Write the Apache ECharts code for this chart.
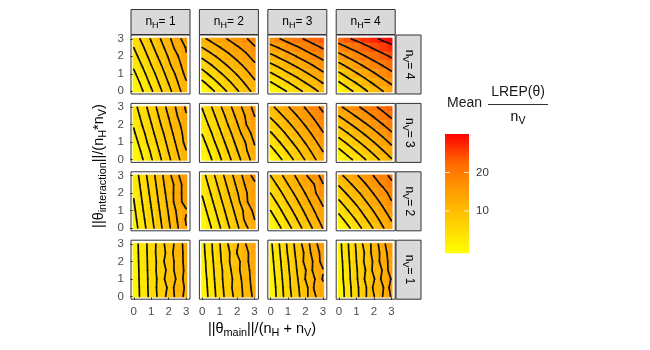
<!DOCTYPE html>
<html>
<head>
<meta charset="utf-8">
<script src="https://cdn.jsdelivr.net/npm/echarts@6/dist/echarts.min.js"></script>
<style>
  html, body { margin: 0; padding: 0; background: #fff; }
  #chart { width: 650px; height: 350px; }
</style>
</head>
<body>
<div id="chart"></div>
<script>
// facet labels
const nH = [1, 2, 3, 4];
const nV = [4, 3, 2, 1];

// sample positions of the grids (rows are listed from y = 3 down to y = 0)
const xSteps = [0, 0.5, 1, 1.5, 2, 2.5, 3];
const ySteps = [3, 2.5, 2, 1.5, 1, 0.5, 0];
const axisTicks = [0, 1, 2, 3];
const legendTicks = [10, 20];
const fillRange = [-1, 30];

// contour spacing per panel, rows nV = 4..1, columns nH = 1..4
const contourSteps = [
  [2, 2.5, 3, 4],
  [2, 2.2, 2.8, 3],
  [2, 2.2, 2.5, 2.9],
  [2, 2, 2, 2]
];

// mean LREP / nV
const lrepV4H1 = [
  [4.8, 6.5, 8.2, 9.9, 11.6, 13.3, 15.0],
  [4.0, 5.7, 7.5, 9.2, 10.9, 12.8, 14.1],
  [3.2, 5.0, 6.7, 8.5, 10.2, 11.8, 13.9],
  [2.4, 4.2, 6.0, 7.7, 9.6, 11.3, 13.0],
  [1.6, 3.4, 5.2, 7.0, 8.8, 10.5, 12.6],
  [0.8, 2.6, 4.5, 6.3, 8.1, 9.9, 11.8],
  [0.0, 1.9, 3.7, 5.6, 7.4, 9.3, 11.1]
];
const lrepV4H2 = [
  [12.0, 13.1, 14.1, 15.2, 16.2, 17.3, 18.3],
  [10.0, 11.2, 12.4, 13.5, 14.7, 15.7, 17.3],
  [8.0, 9.3, 10.6, 11.9, 13.2, 14.5, 15.8],
  [6.0, 7.4, 8.9, 10.3, 11.7, 13.1, 14.6],
  [4.0, 5.6, 7.1, 8.7, 10.2, 11.8, 13.3],
  [2.0, 3.7, 5.4, 7.0, 8.7, 10.4, 12.1],
  [0.0, 1.8, 3.6, 5.4, 7.2, 9.0, 10.8]
];
const lrepV4H3 = [
  [16.8, 17.9, 19.1, 20.2, 21.3, 22.4, 23.6],
  [14.0, 15.2, 16.4, 17.6, 18.9, 20.1, 21.3],
  [11.2, 12.5, 13.8, 15.1, 16.4, 17.7, 19.0],
  [8.4, 9.8, 11.2, 12.6, 13.9, 15.3, 16.7],
  [5.6, 7.1, 8.6, 10.0, 11.5, 13.0, 14.5],
  [2.8, 4.4, 5.9, 7.5, 9.1, 10.6, 12.2],
  [0.0, 1.7, 3.3, 5.0, 6.6, 8.3, 9.9]
];
const lrepV4H4 = [
  [21.9, 23.5, 24.8, 26.2, 27.4, 28.6, 29.6],
  [18.3, 20.0, 21.5, 23.0, 24.5, 25.8, 27.0],
  [14.6, 16.5, 18.2, 19.9, 21.5, 23.0, 24.4],
  [11.0, 13.0, 14.9, 16.8, 18.6, 20.2, 21.8],
  [7.3, 9.6, 11.6, 13.7, 15.6, 17.5, 19.2],
  [3.7, 6.1, 8.3, 10.5, 12.7, 14.7, 16.6],
  [0.0, 2.6, 5.0, 7.4, 9.7, 11.9, 14.0]
];
const lrepV3H1 = [
  [3.3, 5.1, 6.9, 8.8, 10.6, 12.4, 14.3],
  [2.8, 4.6, 6.4, 8.3, 10.1, 12.0, 13.8],
  [2.2, 4.1, 5.9, 7.8, 9.6, 11.5, 13.0],
  [1.7, 3.5, 5.4, 7.2, 9.1, 11.0, 12.8],
  [1.1, 3.0, 4.9, 6.7, 8.6, 10.5, 12.7],
  [0.6, 2.4, 4.3, 6.2, 8.1, 10.0, 11.9],
  [0.0, 1.9, 3.8, 5.7, 7.6, 9.5, 11.4]
];
const lrepV3H2 = [
  [4.5, 6.4, 8.4, 10.3, 12.2, 14.1, 16.1],
  [3.8, 5.7, 7.6, 9.6, 11.5, 13.4, 15.4],
  [3.0, 5.0, 6.9, 8.9, 10.8, 13.1, 14.7],
  [2.3, 4.2, 6.2, 8.1, 10.1, 12.1, 14.0],
  [1.5, 3.5, 5.5, 7.4, 9.4, 11.1, 13.4],
  [0.8, 2.7, 4.7, 6.7, 8.7, 10.7, 12.7],
  [0.0, 2.0, 4.0, 6.0, 8.0, 10.0, 12.0]
];
const lrepV3H3 = [
  [10.5, 12.1, 13.8, 15.4, 17.0, 18.6, 20.3],
  [8.8, 10.5, 12.2, 13.9, 15.6, 17.3, 19.0],
  [7.0, 8.8, 10.6, 12.4, 14.2, 16.0, 17.8],
  [5.3, 7.1, 9.0, 10.9, 12.8, 14.7, 16.6],
  [3.5, 5.5, 7.5, 9.4, 11.4, 13.4, 15.4],
  [1.8, 3.8, 5.9, 7.9, 10.0, 12.1, 14.1],
  [0.0, 2.2, 4.3, 6.5, 8.6, 10.8, 12.9]
];
const lrepV3H4 = [
  [14.4, 15.9, 17.4, 18.9, 20.4, 21.9, 23.4],
  [12.0, 13.6, 15.2, 16.7, 18.3, 19.9, 21.5],
  [9.6, 11.3, 12.9, 14.6, 16.2, 17.9, 19.5],
  [7.2, 8.9, 10.7, 12.4, 14.1, 15.8, 17.6],
  [4.8, 6.6, 8.4, 10.2, 12.0, 13.8, 15.6],
  [2.4, 4.3, 6.2, 8.0, 9.9, 11.8, 13.7],
  [0.0, 2.0, 3.9, 5.9, 7.8, 9.8, 11.7]
];
const lrepV2H1 = [
  [2.8, 5.0, 7.1, 9.3, 11.4, 13.6, 15.7],
  [2.5, 4.7, 6.8, 9.0, 11.1, 12.7, 15.4],
  [2.2, 4.4, 6.5, 8.7, 10.8, 13.0, 15.1],
  [1.9, 4.1, 6.2, 8.4, 10.5, 13.2, 14.8],
  [1.6, 3.8, 5.9, 8.1, 10.2, 12.4, 13.8],
  [1.3, 3.5, 5.6, 7.8, 9.9, 12.1, 14.2],
  [1.0, 3.2, 5.3, 7.5, 9.6, 11.8, 13.9]
];
const lrepV2H2 = [
  [3.6, 5.7, 7.8, 9.9, 12.0, 14.1, 16.2],
  [3.0, 5.1, 7.2, 9.3, 11.4, 13.5, 14.9],
  [2.4, 4.5, 6.6, 8.7, 10.8, 12.9, 15.0],
  [1.8, 3.9, 6.0, 8.1, 10.2, 12.9, 14.4],
  [1.2, 3.3, 5.4, 7.5, 9.6, 11.7, 13.8],
  [0.6, 2.7, 4.8, 6.9, 9.0, 11.6, 13.2],
  [0.0, 2.1, 4.2, 6.3, 8.4, 10.5, 12.6]
];
const lrepV2H3 = [
  [7.5, 9.3, 11.1, 12.9, 14.7, 16.5, 18.3],
  [6.3, 8.1, 10.0, 11.8, 13.7, 15.0, 17.4],
  [5.0, 6.9, 8.8, 10.7, 12.6, 14.5, 16.9],
  [3.8, 5.7, 7.7, 9.6, 11.6, 13.5, 15.5],
  [2.5, 4.5, 6.5, 8.5, 10.5, 12.5, 14.5],
  [1.3, 3.3, 5.4, 7.4, 9.5, 11.5, 13.6],
  [0.0, 2.1, 4.2, 6.3, 8.4, 10.5, 12.6]
];
const lrepV2H4 = [
  [10.8, 12.5, 14.2, 15.8, 17.5, 19.2, 20.9],
  [9.0, 10.8, 12.6, 14.3, 16.1, 17.9, 19.7],
  [7.2, 9.1, 10.9, 12.8, 14.7, 16.1, 18.4],
  [5.4, 7.4, 9.3, 11.3, 13.3, 15.2, 17.2],
  [3.6, 5.7, 7.7, 9.8, 11.8, 13.9, 16.0],
  [1.8, 4.0, 6.1, 8.3, 10.4, 12.6, 14.7],
  [0.0, 2.3, 4.5, 6.8, 9.0, 11.3, 13.5]
];
const lrepV1H1 = [
  [1.0, 3.0, 5.0, 6.9, 9.1, 10.6, 13.0],
  [1.0, 2.9, 5.0, 7.0, 8.6, 11.5, 12.3],
  [0.9, 2.9, 4.9, 6.8, 9.4, 10.4, 12.9],
  [0.9, 2.8, 4.9, 6.9, 8.5, 11.0, 12.4],
  [0.8, 2.8, 4.8, 6.7, 9.2, 10.2, 13.1],
  [0.8, 2.7, 4.8, 6.8, 8.3, 11.3, 12.2],
  [0.7, 2.7, 4.7, 6.7, 8.7, 10.7, 12.7]
];
const lrepV1H2 = [
  [1.4, 3.7, 5.9, 8.1, 9.7, 12.0, 14.0],
  [1.3, 3.6, 5.8, 7.6, 10.1, 11.2, 13.9],
  [1.1, 3.4, 5.6, 7.8, 9.2, 11.6, 13.0],
  [1.0, 3.3, 5.4, 7.3, 9.6, 10.9, 13.5],
  [0.8, 3.1, 5.3, 7.4, 8.7, 11.4, 12.6],
  [0.7, 2.9, 5.2, 7.1, 9.3, 10.5, 13.1],
  [0.5, 2.8, 5.0, 7.0, 8.8, 10.7, 12.5]
];
const lrepV1H3 = [
  [1.6, 4.0, 6.4, 8.7, 11.0, 13.2, 15.6],
  [1.4, 3.8, 6.2, 8.5, 10.4, 13.1, 14.6],
  [1.2, 3.6, 5.9, 8.2, 10.6, 12.3, 14.9],
  [1.0, 3.4, 5.7, 8.0, 9.9, 12.6, 13.8],
  [0.8, 3.2, 5.5, 7.7, 10.1, 11.8, 14.2],
  [0.6, 3.0, 5.4, 7.6, 9.2, 12.2, 13.3],
  [0.5, 2.9, 5.2, 7.3, 9.4, 11.6, 13.6]
];
const lrepV1H4 = [
  [1.3, 3.8, 6.3, 8.7, 10.7, 13.3, 15.6],
  [1.2, 3.7, 6.1, 8.2, 10.9, 12.6, 15.5],
  [1.0, 3.5, 6.0, 8.4, 10.3, 13.0, 14.7],
  [0.9, 3.4, 5.8, 7.9, 10.6, 12.1, 15.2],
  [0.8, 3.3, 5.7, 8.2, 9.8, 12.6, 14.1],
  [0.6, 3.1, 5.5, 7.6, 10.4, 11.7, 14.8],
  [0.5, 3.0, 5.4, 7.7, 9.9, 12.0, 14.2]
];

const panels = [
  [lrepV4H1, lrepV4H2, lrepV4H3, lrepV4H4],
  [lrepV3H1, lrepV3H2, lrepV3H3, lrepV3H4],
  [lrepV2H1, lrepV2H2, lrepV2H3, lrepV2H4],
  [lrepV1H1, lrepV1H2, lrepV1H3, lrepV1H4]
];

// layout
const panelLeft = [131, 199.4, 267.8, 336.2];
const panelTop = [35, 103.4, 171.8, 240.2];
const panelSize = 59;
const fillColors = ['#FFFF00', '#FFD100', '#FFA100', '#FF6B00', '#FF0000'];
const font = '"Liberation Sans", Arial, Helvetica, sans-serif';

function subRich(size) {
  return {
    m: { fontSize: size, lineHeight: size + 2, fontFamily: font, color: '#1A1A1A' },
    s: { fontSize: size * 0.75, lineHeight: size * 0.75, padding: [size * 0.6, 0, 0, 0], fontFamily: font, color: '#1A1A1A' }
  };
}

// marching squares on one panel grid, returns [x1, y1, x2, y2] segments
function contourSegments(grid, level) {
  const nx = xSteps.length, ny = ySteps.length;
  const segs = [];
  for (let r = 0; r < ny - 1; r++) {
    for (let i = 0; i < nx - 1; i++) {
      const x0 = xSteps[i], x1 = xSteps[i + 1];
      const yT = ySteps[r], yB = ySteps[r + 1];
      const tl = grid[r][i], tr = grid[r][i + 1];
      const bl = grid[r + 1][i], br = grid[r + 1][i + 1];
      const hit = (a, b) => (a < level) !== (b < level);
      const t = (a, b) => (level - a) / (b - a);
      const pts = {};
      if (hit(bl, br)) pts.b = [x0 + (x1 - x0) * t(bl, br), yB];
      if (hit(br, tr)) pts.r = [x1, yB + (yT - yB) * t(br, tr)];
      if (hit(tl, tr)) pts.t = [x0 + (x1 - x0) * t(tl, tr), yT];
      if (hit(bl, tl)) pts.l = [x0, yB + (yT - yB) * t(bl, tl)];
      const keys = Object.keys(pts);
      const add = (p, q) => segs.push([p[0], p[1], q[0], q[1]]);
      if (keys.length === 2) {
        add(pts[keys[0]], pts[keys[1]]);
      } else if (keys.length === 4) {
        const center = (tl + tr + bl + br) / 4;
        if ((center < level) === (bl < level)) {
          add(pts.b, pts.r); add(pts.t, pts.l);
        } else {
          add(pts.l, pts.b); add(pts.r, pts.t);
        }
      }
    }
  }
  return segs;
}

function renderTile(params, api) {
  const h = 0.25, lo = -0.05, hi = 3.05;
  const x = api.value(0), y = api.value(1);
  const p0 = api.coord([Math.max(x - h, lo), Math.min(y + h, hi)]);
  const p1 = api.coord([Math.min(x + h, hi), Math.max(y - h, lo)]);
  const color = api.visual('color');
  return {
    type: 'rect',
    shape: { x: p0[0], y: p0[1], width: p1[0] - p0[0], height: p1[1] - p0[1] },
    style: { fill: color, stroke: color, lineWidth: 0.5 }
  };
}

function renderSegment(params, api) {
  const p = api.coord([api.value(0), api.value(1)]);
  const q = api.coord([api.value(2), api.value(3)]);
  return {
    type: 'line',
    shape: { x1: p[0], y1: p[1], x2: q[0], y2: q[1] },
    style: { stroke: '#111', lineWidth: 1.7, lineCap: 'round' }
  };
}

function axisOpt(k, showLabels) {
  return {
    gridIndex: k, type: 'value', min: -0.16, max: 3.22,
    axisLine: { show: false },
    splitLine: { show: false },
    axisTick: { show: showLabels, length: 3.5, customValues: axisTicks, lineStyle: { color: '#333', width: 1 } },
    axisLabel: { show: showLabels, customValues: axisTicks, margin: 7, fontSize: 11.5, color: '#4D4D4D', fontFamily: font }
  };
}

const grids = [], xAxes = [], yAxes = [], series = [], heatIdx = [];
panels.forEach((row, r) => {
  row.forEach((grid, c) => {
    const k = grids.length;
    grids.push({
      left: panelLeft[c], top: panelTop[r], width: panelSize, height: panelSize,
      show: true, borderColor: '#333', borderWidth: 1, backgroundColor: '#fff'
    });
    xAxes.push(axisOpt(k, r === panels.length - 1));
    yAxes.push(axisOpt(k, c === 0));

    const cells = [];
    ySteps.forEach((y, ri) => xSteps.forEach((x, ci) => cells.push([x, y, grid[ri][ci]])));
    heatIdx.push(series.length);
    series.push({
      type: 'custom', xAxisIndex: k, yAxisIndex: k, renderItem: renderTile,
      encode: { x: 0, y: 1 }, data: cells, z: 1, silent: true
    });

    const step = contourSteps[r][c];
    const maxVal = Math.max(...grid.flat());
    let segs = [];
    for (let lv = step; lv < maxVal; lv += step) segs = segs.concat(contourSegments(grid, lv));
    series.push({
      type: 'custom', xAxisIndex: k, yAxisIndex: k, renderItem: renderSegment,
      encode: { x: [0, 2], y: [1, 3] }, data: segs, z: 2, silent: true
    });
  });
});

// strips, titles and legend
const graphics = [];
nH.forEach((h, c) => {
  graphics.push({
    type: 'rect', shape: { x: panelLeft[c], y: 9.5, width: panelSize, height: 25 },
    style: { fill: '#D9D9D9', stroke: '#333', lineWidth: 1 }
  });
  graphics.push({
    type: 'text', x: panelLeft[c] + panelSize / 2, y: 22,
    style: { text: '{m|n}{s|H}{m|= ' + h + '}', rich: subRich(12), align: 'center', verticalAlign: 'middle' }
  });
});
nV.forEach((v, r) => {
  graphics.push({
    type: 'rect', shape: { x: 396, y: panelTop[r], width: 25, height: panelSize },
    style: { fill: '#D9D9D9', stroke: '#333', lineWidth: 1 }
  });
  graphics.push({
    type: 'text', x: 409, y: panelTop[r] + panelSize / 2, rotation: -Math.PI / 2,
    style: { text: '{m|n}{s|V}{m|= ' + v + '}', rich: subRich(12), align: 'center', verticalAlign: 'middle' }
  });
});
graphics.push({
  type: 'text', x: 262, y: 329,
  style: { text: '{m|||θ}{s|main}{m|||/(n}{s|H}{m| + n}{s|V}{m|)}', rich: subRich(14.5), align: 'center', verticalAlign: 'middle' }
});
graphics.push({
  type: 'text', x: 99, y: 166, rotation: Math.PI / 2,
  style: { text: '{m|||θ}{s|interaction}{m|||/(n}{s|H}{m|*n}{s|V}{m|)}', rich: subRich(14.5), align: 'center', verticalAlign: 'middle' }
});

// legend title
graphics.push({ type: 'text', x: 447, y: 103.5, style: { text: 'Mean', font: '14px ' + font, fill: '#1A1A1A', align: 'left', verticalAlign: 'middle' } });
graphics.push({ type: 'text', x: 518, y: 92, style: { text: 'LREP(θ)', font: '14px ' + font, fill: '#1A1A1A', align: 'center', verticalAlign: 'middle' } });
graphics.push({ type: 'line', shape: { x1: 488, y1: 104.5, x2: 548, y2: 104.5 }, style: { stroke: '#333', lineWidth: 1 } });
graphics.push({
  type: 'text', x: 518, y: 117,
  style: { text: '{m|n}{s|V}', rich: subRich(14), align: 'center', verticalAlign: 'middle' }
});

// colorbar
const bar = { x: 445, y: 134, w: 24, h: 119.3 };
graphics.push({
  type: 'rect', shape: { x: bar.x, y: bar.y, width: bar.w, height: bar.h },
  style: {
    fill: {
      type: 'linear', x: 0, y: 1, x2: 0, y2: 0,
      colorStops: fillColors.map((col, i) => ({ offset: i / (fillColors.length - 1), color: col }))
    }
  }
});
legendTicks.forEach(v => {
  const y = bar.y + bar.h * (1 - (v - fillRange[0]) / (fillRange[1] - fillRange[0]));
  graphics.push({ type: 'line', shape: { x1: bar.x, y1: y, x2: bar.x + 5, y2: y }, style: { stroke: 'rgba(255,255,255,0.8)', lineWidth: 1 } });
  graphics.push({ type: 'line', shape: { x1: bar.x + bar.w - 5, y1: y, x2: bar.x + bar.w, y2: y }, style: { stroke: 'rgba(255,255,255,0.8)', lineWidth: 1 } });
  graphics.push({ type: 'text', x: 476, y: y, style: { text: String(v), font: '11.5px ' + font, fill: '#333', align: 'left', verticalAlign: 'middle' } });
});

const chart = echarts.init(document.getElementById('chart'));
chart.setOption({
  animation: false,
  textStyle: { fontFamily: font },
  grid: grids,
  xAxis: xAxes,
  yAxis: yAxes,
  visualMap: {
    show: false, type: 'continuous', min: fillRange[0], max: fillRange[1],
    dimension: 2, seriesIndex: heatIdx, inRange: { color: fillColors }
  },
  series: series,
  graphic: graphics
});
</script>
</body>
</html>
